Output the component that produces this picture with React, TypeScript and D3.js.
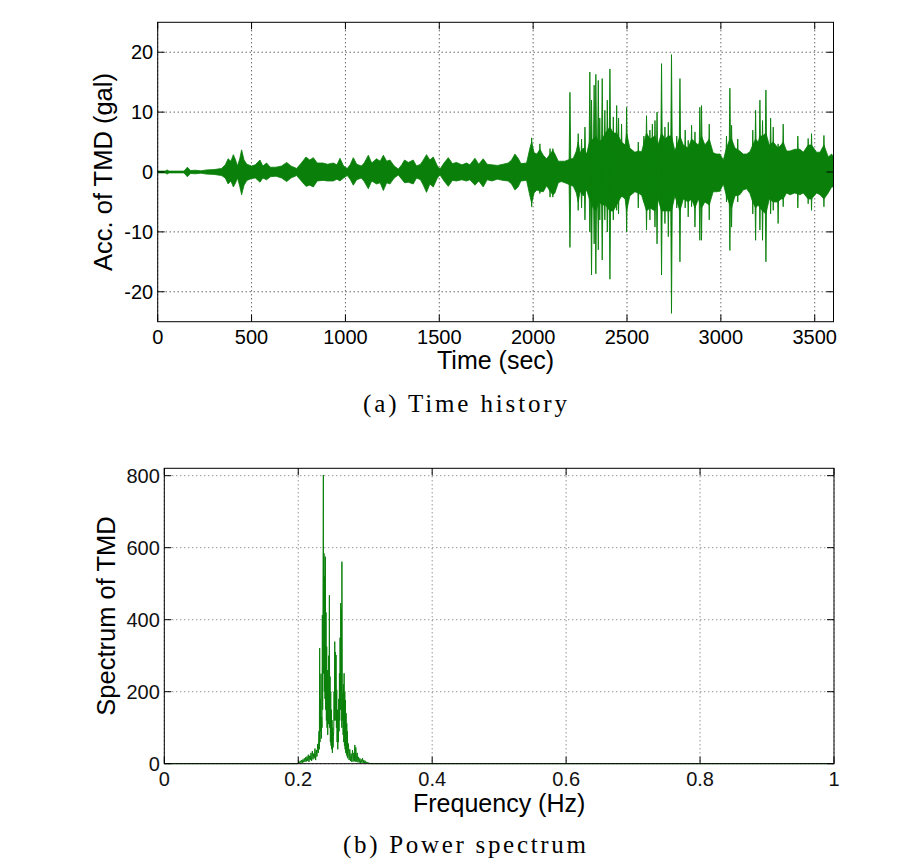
import React from 'react';
import * as d3 from 'd3';

// ---- Time history: envelope of the TMD acceleration (gal)
const accT = [0, 40, 50, 60, 140, 158, 175, 200, 230, 260, 300, 340, 360, 375, 390, 403, 415, 425, 437, 447, 460, 475, 500, 520, 545, 560, 580, 600, 630, 660, 687, 710, 740, 765, 790, 810, 829, 850, 880, 905, 935, 955, 971, 990, 1010, 1025, 1042, 1060, 1085, 1100, 1122, 1140, 1166, 1185, 1202, 1220, 1237, 1260, 1282, 1300, 1315, 1335, 1361, 1379, 1400, 1415, 1432, 1450, 1468, 1490, 1504, 1525, 1548, 1570, 1592, 1620, 1645, 1663, 1690, 1710, 1734, 1755, 1780, 1810, 1840, 1867, 1885, 1903, 1920, 1935, 1965, 1983, 1992, 2005, 2020, 2036, 2054, 2072, 2090, 2105, 2116, 2134, 2150, 2169, 2185, 2214, 2230, 2240, 2250, 2267, 2285, 2300, 2320, 2334, 2350, 2368, 2385, 2409, 2427, 2445, 2471, 2490, 2498, 2515, 2542, 2560, 2578, 2604, 2622, 2649, 2665, 2684, 2702, 2720, 2737, 2755, 2782, 2800, 2826, 2844, 2862, 2880, 2897, 2915, 2938, 2959, 2977, 2995, 3013, 3030, 3048, 3057, 3075, 3101, 3119, 3137, 3155, 3170, 3185, 3199, 3208, 3222, 3240, 3258, 3279, 3305, 3320, 3332, 3350, 3368, 3394, 3421, 3439, 3465, 3483, 3510, 3528, 3549, 3572, 3590, 3600];
const accHi = [0.15, 0.15, 0.35, 0.15, 0.15, 0.8, 0.25, 0.3, 0.2, 0.35, 0.4, 0.6, 1.2, 2.2, 1.8, 2.9, 2.0, 1.0, 2.2, 3.7, 2.0, 1.3, 1.0, 1.2, 2.0, 1.0, 1.5, 0.8, 0.8, 1.0, 1.6, 1.0, 0.6, 1.5, 2.5, 2.0, 2.4, 1.5, 1.5, 1.3, 1.5, 1.2, 2.3, 1.0, 0.6, 1.2, 2.4, 1.3, 1.0, 1.5, 2.8, 1.5, 2.2, 1.8, 2.8, 1.8, 2.0, 1.0, 0.5, 1.2, 2.0, 1.6, 2.0, 1.0, 1.3, 2.0, 2.9, 2.0, 2.5, 1.0, 0.5, 1.5, 2.4, 1.4, 1.6, 1.2, 1.5, 1.2, 2.3, 1.3, 2.2, 1.3, 1.2, 1.1, 1.3, 1.5, 2.0, 3.0, 2.3, 1.4, 1.5, 4.0, 5.0, 3.2, 3.0, 3.8, 2.8, 2.2, 3.0, 3.6, 3.0, 1.8, 1.8, 1.8, 2.0, 2.3, 3.5, 5.0, 3.2, 4.0, 3.0, 5.0, 5.5, 6.0, 5.0, 5.5, 6.5, 7.5, 6.5, 6.5, 5.0, 4.5, 6.5, 4.0, 3.3, 3.5, 3.4, 6.5, 5.5, 6.0, 4.5, 6.5, 5.5, 6.0, 6.0, 3.5, 6.0, 4.5, 4.0, 5.5, 5.0, 4.5, 6.0, 4.5, 5.5, 3.2, 3.0, 3.0, 2.0, 4.0, 5.5, 5.5, 4.0, 3.5, 3.0, 3.0, 3.4, 4.5, 5.5, 5.0, 6.0, 6.0, 6.5, 4.5, 5.0, 4.0, 4.5, 5.0, 3.5, 3.5, 3.8, 3.8, 3.3, 4.5, 4.5, 3.3, 3.3, 4.5, 2.5, 3.0, 2.5];
const accLo = [-0.15, -0.15, -0.35, -0.15, -0.15, -0.8, -0.25, -0.3, -0.2, -0.35, -0.4, -0.6, -1.0, -2.0, -1.5, -2.5, -1.8, -1.0, -2.4, -3.8, -2.2, -1.4, -1.1, -1.0, -1.7, -1.0, -1.3, -0.8, -0.7, -1.0, -1.6, -1.0, -0.6, -1.5, -2.4, -2.2, -2.5, -1.5, -1.4, -1.5, -1.5, -1.2, -1.5, -1.0, -0.6, -1.2, -2.2, -1.3, -1.0, -1.6, -2.8, -1.5, -2.0, -1.8, -3.1, -1.8, -2.0, -1.0, -0.5, -1.2, -1.8, -1.7, -2.0, -1.0, -1.3, -2.2, -3.4, -2.0, -2.5, -1.0, -0.5, -1.5, -2.4, -1.4, -1.5, -1.3, -1.5, -1.3, -2.2, -1.5, -2.5, -1.3, -1.5, -1.2, -1.4, -1.5, -2.0, -3.0, -2.5, -1.5, -1.4, -4.0, -5.2, -3.5, -3.0, -3.2, -3.3, -2.3, -3.2, -3.8, -3.5, -1.8, -1.6, -1.8, -2.0, -2.4, -3.5, -5.0, -3.2, -4.0, -3.0, -4.5, -6.0, -6.5, -5.0, -5.5, -5.5, -6.5, -6.5, -5.5, -4.0, -4.5, -6.5, -4.0, -3.3, -3.5, -3.9, -6.5, -6.0, -6.5, -4.5, -6.5, -6.5, -6.5, -6.5, -4.0, -6.5, -4.5, -5.0, -4.5, -6.0, -4.5, -6.0, -5.0, -5.5, -3.3, -3.3, -3.2, -2.0, -4.0, -5.5, -6.0, -4.0, -3.8, -3.0, -2.8, -3.6, -5.0, -6.0, -5.5, -6.0, -6.5, -7.0, -4.5, -5.0, -5.0, -4.5, -4.5, -3.5, -3.8, -3.5, -3.8, -3.5, -4.5, -4.5, -3.5, -3.8, -4.5, -3.5, -2.5, -2.5];

// spikes reaching beyond the dense band
const spikeT = [1992, 2036, 2090, 2105, 2196, 2240, 2258, 2276, 2302, 2311, 2325, 2334, 2347, 2355, 2368, 2382, 2395, 2409, 2427, 2445, 2455, 2471, 2498, 2560, 2590, 2604, 2622, 2635, 2649, 2660, 2684, 2702, 2720, 2737, 2765, 2782, 2810, 2826, 2844, 2862, 2888, 2897, 2938, 3030, 3048, 3057, 3090, 3170, 3185, 3208, 3222, 3240, 3265, 3279, 3305, 3332, 3410, 3465, 3483, 3549];
const spikeHi = [5.7, 4.7, 3.9, 3.9, 13.3, 6.4, 5.5, 7.5, 16.7, 12.0, 14.5, 16.3, 15.3, 9.0, 15.6, 10.3, 12.0, 17.2, 9.2, 11.1, 9.0, 8.0, 10.8, 5.0, 6.0, 9.4, 7.0, 8.0, 8.6, 10.0, 18.1, 7.5, 8.3, 19.6, 6.0, 15.6, 7.0, 5.3, 7.8, 6.7, 10.8, 11.1, 8.0, 6.0, 14.0, 7.8, 5.5, 7.0, 10.3, 12.0, 8.6, 13.7, 9.0, 7.5, 4.7, 8.0, 6.0, 5.6, 6.4, 6.1];
const spikeLo = [-5.8, -3.6, -4.2, -4.2, -12.6, -6.4, -6.0, -8.0, -10.0, -17.2, -12.0, -17.0, -13.0, -8.0, -14.7, -8.0, -10.0, -17.9, -8.0, -6.4, -7.0, -4.2, -10.0, -6.0, -5.0, -9.7, -8.0, -6.0, -9.2, -12.0, -17.2, -8.6, -10.8, -23.6, -6.0, -15.0, -6.0, -7.5, -5.8, -9.2, -11.4, -11.4, -8.0, -5.0, -13.1, -9.2, -5.0, -7.0, -11.4, -9.7, -11.4, -15.0, -7.0, -6.4, -8.6, -5.8, -6.0, -5.3, -6.4, -5.8];

const accXTicks = [0, 500, 1000, 1500, 2000, 2500, 3000, 3500];
const accYTicks = [-20, -10, 0, 10, 20];

// ---- Power spectrum
const specF = [0, 0.198, 0.2, 0.201, 0.202, 0.203, 0.204, 0.205, 0.206, 0.207, 0.208, 0.209, 0.21, 0.211, 0.212, 0.213, 0.214, 0.215, 0.216, 0.217, 0.218, 0.219, 0.22, 0.221, 0.222, 0.223, 0.224, 0.225, 0.226, 0.227, 0.228, 0.229, 0.23, 0.231, 0.2315, 0.232, 0.2325, 0.233, 0.2335, 0.234, 0.2345, 0.235, 0.2355, 0.236, 0.2365, 0.237, 0.2375, 0.238, 0.2385, 0.239, 0.2395, 0.24, 0.2405, 0.241, 0.2415, 0.242, 0.2425, 0.243, 0.2435, 0.244, 0.2445, 0.245, 0.2455, 0.246, 0.2465, 0.247, 0.2475, 0.248, 0.2485, 0.249, 0.2495, 0.25, 0.2505, 0.251, 0.2515, 0.252, 0.2525, 0.253, 0.2535, 0.254, 0.2545, 0.255, 0.2555, 0.256, 0.2565, 0.257, 0.2575, 0.258, 0.2585, 0.259, 0.2595, 0.26, 0.2605, 0.261, 0.2615, 0.262, 0.2625, 0.263, 0.2635, 0.264, 0.2645, 0.265, 0.2652, 0.2658, 0.2665, 0.267, 0.2675, 0.268, 0.2685, 0.269, 0.2695, 0.27, 0.2705, 0.271, 0.2715, 0.272, 0.2725, 0.273, 0.2735, 0.274, 0.275, 0.276, 0.277, 0.278, 0.279, 0.28, 0.281, 0.282, 0.283, 0.284, 0.2845, 0.285, 0.286, 0.287, 0.288, 0.289, 0.29, 0.291, 0.292, 0.293, 0.294, 0.295, 0.296, 0.297, 0.298, 0.299, 0.3, 0.301, 0.302, 0.303, 0.304, 0.305, 0.306, 0.307, 1.0];
const specV = [0, 0, 2, 6, 1, 8, 3, 10, 2, 12, 4, 15, 5, 18, 6, 20, 8, 25, 5, 22, 10, 30, 8, 35, 12, 28, 15, 42, 10, 38, 20, 55, 30, 90, 40, 321, 60, 180, 90, 250, 70, 130, 100, 413, 150, 500, 802, 250, 584, 200, 520, 180, 575, 150, 420, 120, 325, 100, 260, 80, 195, 110, 300, 150, 468, 100, 242, 60, 200, 50, 150, 40, 121, 30, 100, 45, 75, 90, 200, 120, 339, 150, 310, 120, 302, 100, 205, 60, 150, 40, 102, 60, 180, 90, 251, 120, 350, 150, 446, 200, 430, 100, 561, 120, 195, 80, 220, 60, 251, 50, 200, 40, 177, 30, 140, 25, 112, 20, 90, 15, 56, 10, 40, 8, 28, 5, 38, 6, 30, 8, 52, 5, 45, 6, 30, 4, 19, 3, 15, 2, 12, 3, 15, 2, 10, 2, 8, 1, 5, 1, 4, 1, 2, 0, 0];

const specXTicks = [0, 0.2, 0.4, 0.6, 0.8, 1];
const specYTicks = [0, 200, 400, 600, 800];

const GREEN = '#0a800a';
const SANS = '"Liberation Sans", Arial, sans-serif';
const SERIF = '"Liberation Serif", "DejaVu Serif", serif';

type Box = { left: number; right: number; top: number; bottom: number };

function Grid({ box, xs, ys, xt, yt, grid }: any) {
  return (
    <g>
      {xt.map((v: number, i: number) => (
        <line key={'gx' + i} x1={xs(v)} x2={xs(v)} y1={box.top} y2={box.bottom} stroke={grid} strokeWidth={1} strokeDasharray="1 3" />
      ))}
      {yt.map((v: number, i: number) => (
        <line key={'gy' + i} x1={box.left} x2={box.right} y1={ys(v)} y2={ys(v)} stroke={grid} strokeWidth={1} strokeDasharray="1 3" />
      ))}
    </g>
  );
}

function Axes({ box, xs, ys, xt, yt, fmtX, fmtY, xlabelY, tickColor }: any) {
  const tick = 7;
  return (
    <g fontFamily={SANS} fill={tickColor}>
      <rect x={box.left} y={box.top} width={box.right - box.left} height={box.bottom - box.top} fill="none" stroke="#000" strokeWidth={1} />
      {xt.map((v: number, i: number) => (
        <g key={'tx' + i}>
          <line x1={xs(v)} x2={xs(v)} y1={box.bottom} y2={box.bottom - tick} stroke="#000" />
          <line x1={xs(v)} x2={xs(v)} y1={box.top} y2={box.top + tick} stroke="#000" />
          <text x={xs(v)} y={xlabelY} fontSize={20} textAnchor="middle">{fmtX(v)}</text>
        </g>
      ))}
      {yt.map((v: number, i: number) => (
        <g key={'ty' + i}>
          <line x1={box.left} x2={box.left + tick} y1={ys(v)} y2={ys(v)} stroke="#000" />
          <line x1={box.right} x2={box.right - tick} y1={ys(v)} y2={ys(v)} stroke="#000" />
          <text x={box.left - 4.5} y={ys(v) + 7} fontSize={20} textAnchor="end">{fmtY(v)}</text>
        </g>
      ))}
    </g>
  );
}

export default function App() {
  const W = 904, H = 862;

  const boxA: Box = { left: 157.7, right: 833.5, top: 22.3, bottom: 321.7 };
  const xa = d3.scaleLinear().domain([0, 3600]).range([boxA.left, boxA.right]);
  const ya = d3.scaleLinear().domain([-25, 25]).range([boxA.bottom, boxA.top]);

  const boxB: Box = { left: 164.3, right: 834, top: 468.3, bottom: 763.7 };
  const xb = d3.scaleLinear().domain([0, 1]).range([boxB.left, boxB.right]);
  const yb = d3.scaleLinear().domain([0, 820.5]).range([boxB.bottom, boxB.top]);

  const accIdx = accT.map((_, i) => i);
  const band = d3.area<number>()
    .x(i => xa(accT[i]))
    .y0(i => ya(accLo[i]))
    .y1(i => ya(accHi[i]))
    .curve(d3.curveLinear)(accIdx) || '';

  // each spike drawn as a slim diamond centred on its time
  const halfW = 5; // seconds
  const spikePath = (i: number) => {
    const t = spikeT[i];
    const pts: [number, number][] = [
      [xa(t - halfW), ya(0)],
      [xa(t), ya(spikeHi[i])],
      [xa(t + halfW), ya(0)],
      [xa(t), ya(spikeLo[i])],
    ];
    return d3.line()(pts.concat([pts[0]])) || '';
  };

  const specIdx = specF.map((_, i) => i);
  const specLine = d3.line<number>()
    .x(i => xb(specF[i]))
    .y(i => yb(specV[i]))(specIdx) || '';

  const fmt = (v: number) => String(v);

  return (
    <svg width={W} height={H} viewBox={`0 0 ${W} ${H}`} style={{ position: 'absolute', left: 0, top: 0, background: '#fff' }}>
      <rect x={0} y={0} width={W} height={H} fill="#fff" />

      {/* Panel (a) */}
      <Grid box={boxA} xs={xa} ys={ya} xt={accXTicks} yt={accYTicks} grid="#222" />
      <clipPath id="clipA"><rect x={boxA.left} y={boxA.top} width={boxA.right - boxA.left} height={boxA.bottom - boxA.top} /></clipPath>
      <g clipPath="url(#clipA)">
        <line x1={xa(0)} x2={xa(3600)} y1={ya(0)} y2={ya(0)} stroke={GREEN} strokeWidth={1.2} />
        <path d={band} fill={GREEN} stroke={GREEN} strokeWidth={0.8} strokeLinejoin="miter" />
        {spikeT.map((t, i) => (
          <path key={'sp' + i} d={spikePath(i)} fill={GREEN} stroke={GREEN} strokeWidth={0.9} />
        ))}
      </g>
      <Axes box={boxA} xs={xa} ys={ya} xt={accXTicks} yt={accYTicks} fmtX={fmt} fmtY={fmt} xlabelY={343.5} tickColor="#000" />
      <text x={(boxA.left + boxA.right) / 2} y={368.5} fontFamily={SANS} fontSize={25} textAnchor="middle">Time (sec)</text>
      <text transform={`translate(112,${(boxA.top + boxA.bottom) / 2}) rotate(-90)`} fontFamily={SANS} fontSize={25.5} textAnchor="middle">Acc. of TMD (gal)</text>
      <text x={465} y={412} fontFamily={SERIF} fontSize={25} textAnchor="middle" textLength={204} lengthAdjust="spacing">(a) Time history</text>

      {/* Panel (b) */}
      <Grid box={boxB} xs={xb} ys={yb} xt={specXTicks} yt={specYTicks} grid="#666" />
      <clipPath id="clipB"><rect x={boxB.left} y={boxB.top} width={boxB.right - boxB.left} height={boxB.bottom - boxB.top + 1} /></clipPath>
      <g clipPath="url(#clipB)">
        <path d={specLine} fill="none" stroke={GREEN} strokeWidth={1} strokeLinejoin="miter" />
      </g>
      <Axes box={boxB} xs={xb} ys={yb} xt={specXTicks} yt={specYTicks} fmtX={fmt} fmtY={fmt} xlabelY={786} tickColor="#111" />
      <text x={(boxB.left + boxB.right) / 2} y={812} fontFamily={SANS} fontSize={25} textAnchor="middle">Frequency (Hz)</text>
      <text transform={`translate(114.5,${(boxB.top + boxB.bottom) / 2}) rotate(-90)`} fontFamily={SANS} fontSize={25.5} textAnchor="middle">Spectrum of TMD</text>
      <text x={464.5} y={853} fontFamily={SERIF} fontSize={25} textAnchor="middle" textLength={243} lengthAdjust="spacing">(b) Power spectrum</text>
    </svg>
  );
}
